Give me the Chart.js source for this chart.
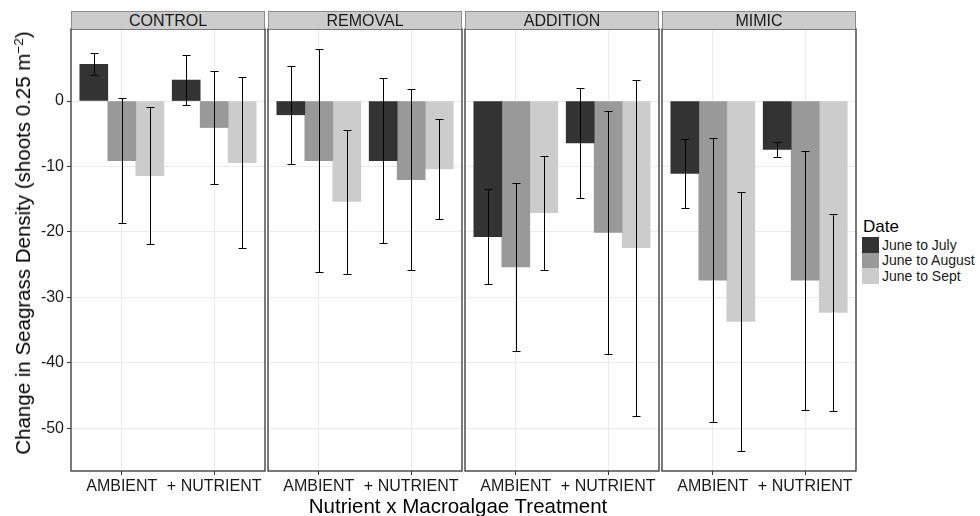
<!DOCTYPE html>
<html>
<head>
<meta charset="utf-8">
<script src="https://cdn.jsdelivr.net/npm/chart.js@4/dist/chart.umd.min.js"></script>
<style>
  html, body { margin: 0; padding: 0; background: #fff; }
  body { width: 980px; height: 516px; position: relative; overflow: hidden;
         font-family: "Liberation Sans", Arial, Helvetica, sans-serif; color: #000; }
  .panel { position: absolute; top: 0; height: 516px; }
  .strip { position: absolute; top: 11px; height: 18px; box-sizing: border-box;
           background: #cccccc; border: 1px solid #8c8c8c; border-bottom: none;
           font-size: 16px; line-height: 17px; text-align: center; color: #1a1a1a; }
  .ytitle { position: absolute; left: 23px; top: 243px; white-space: nowrap; font-size: 20.5px;
            transform: translate(-50%, -50%) rotate(-90deg); }
  .ytitle sup { font-size: 13.5px; vertical-align: 7px; line-height: 0; }
  .xtitle { position: absolute; left: 458px; top: 506px; white-space: nowrap; font-size: 20.5px;
            transform: translate(-50%, -50%); }
  .legend { position: absolute; left: 862px; top: 217px; }
  .legend .ttl { font-size: 17px; font-weight: normal; line-height: 20px; margin-left: 1px; }
  .legend .row { display: flex; align-items: center; height: 15.5px; }
  .legend .key { width: 17px; height: 15.5px; margin-right: 3px; }
  .legend .lab { font-size: 14px; color: #1a1a1a; white-space: nowrap; }
</style>
</head>
<body>
<div id="panels"></div>
<div class="ytitle">Change in Seagrass Density (shoots 0.25 m<sup>−2</sup>)</div>
<div class="xtitle">Nutrient x Macroalgae Treatment</div>
<div class="legend" id="legend"><div class="ttl">Date</div></div>

<script>
// Facets, categories and series
const treatments = ['CONTROL', 'REMOVAL', 'ADDITION', 'MIMIC'];
const categories = ['AMBIENT', '+ NUTRIENT'];
const dates = ['June to July', 'June to August', 'June to Sept'];
const yTicks = [-50, -40, -30, -20, -10, 0];

// Mean change per treatment, in order: CONTROL amb/nut, REMOVAL amb/nut, ADDITION amb/nut, MIMIC amb/nut
const julyMean  = [5.6, 3.2, -2.1, -9.1, -20.7, -6.4, -11.05, -7.4];
const augMean   = [-9.1, -4.05, -9.1, -12.0, -25.35, -20.05, -27.35, -27.35];
const septMean  = [-11.4, -9.4, -15.35, -10.35, -17.05, -22.4, -33.65, -32.3];

// Error-bar half widths, same order
const julyErr = [1.68, 3.86, 7.46, 12.65, 7.19, 8.43, 5.31, 1.17];
const augErr  = [9.6, 8.6, 17.0, 13.87, 12.78, 18.57, 21.65, 19.79];
const septErr = [10.47, 13.0, 11.0, 7.67, 8.72, 25.63, 19.77, 15.05];

const means = [julyMean, augMean, septMean];
const errs = [julyErr, augErr, septErr];
const fills = ['#333333', '#999999', '#cccccc'];

const FONT = '"Liberation Sans", Arial, Helvetica, sans-serif';
const panelLeft = [71, 268, 465, 662];
const panelWidth = 194;

// Whiskers with caps drawn on top of the bars
const errorBars = {
  id: 'errorBars',
  afterDatasetsDraw(chart) {
    const ctx = chart.ctx;
    const ys = chart.scales.y;
    ctx.save();
    ctx.strokeStyle = '#000';
    ctx.lineWidth = 1;
    chart.data.datasets.forEach((ds, i) => {
      const meta = chart.getDatasetMeta(i);
      meta.data.forEach((bar, j) => {
        const m = ds.data[j].y, e = ds.errors[j];
        const x = Math.round(bar.x) + 0.5;
        const yHi = Math.round(ys.getPixelForValue(m + e)) + 0.5;
        const yLo = Math.round(ys.getPixelForValue(m - e)) + 0.5;
        const cap = 4;
        ctx.beginPath();
        ctx.moveTo(x, yHi); ctx.lineTo(x, yLo);
        ctx.moveTo(x - cap, yHi); ctx.lineTo(x + cap, yHi);
        ctx.moveTo(x - cap, yLo); ctx.lineTo(x + cap, yLo);
        ctx.stroke();
      });
    });
    ctx.restore();
  }
};

// Dark frame around each facet
const panelBorder = {
  id: 'panelBorder',
  afterDraw(chart) {
    const a = chart.chartArea, ctx = chart.ctx;
    ctx.save();
    ctx.strokeStyle = '#333333';
    ctx.lineWidth = 1.3;
    ctx.strokeRect(a.left, a.top, a.right - a.left, a.bottom - a.top);
    ctx.restore();
  }
};

function makePanel(k) {
  const first = k === 0;
  const padL = first ? 0 : 2;
  const canvasLeft = first ? 0 : panelLeft[k] - padL;
  const canvasW = panelLeft[k] + panelWidth + 2 - canvasLeft;

  const wrap = document.createElement('div');
  wrap.className = 'panel';
  wrap.style.left = canvasLeft + 'px';
  wrap.style.width = canvasW + 'px';
  const cv = document.createElement('canvas');
  cv.width = canvasW; cv.height = 516;
  cv.style.width = canvasW + 'px'; cv.style.height = '516px';
  wrap.appendChild(cv);
  document.getElementById('panels').appendChild(wrap);

  const strip = document.createElement('div');
  strip.className = 'strip';
  strip.style.left = panelLeft[k] + 'px';
  strip.style.width = panelWidth + 'px';
  strip.textContent = treatments[k];
  document.body.appendChild(strip);

  const datasets = dates.map((d, s) => ({
    label: d,
    data: categories.map((c, j) => ({ x: j + 1, y: means[s][2 * k + j] })),
    errors: categories.map((c, j) => errs[s][2 * k + j]),
    backgroundColor: fills[s],
    borderWidth: 0,
    barThickness: 28
  }));

  new Chart(cv, {
    type: 'bar',
    data: { datasets },
    options: {
      responsive: false,
      animation: false,
      devicePixelRatio: 1,
      events: [],
      layout: { padding: { left: padL, right: 2, top: 29, bottom: 0 } },
      plugins: { legend: { display: false }, tooltip: { enabled: false } },
      scales: {
        x: {
          type: 'linear', min: 0.45, max: 2.55, offset: false,
          afterBuildTicks: s => { s.ticks = categories.map((c, j) => ({ value: j + 1 })); },
          afterFit: s => { s.height = 45; },
          grid: { offset: false, color: '#ebebeb', lineWidth: 1, tickColor: '#333333', tickLength: 4, drawTicks: true },
          border: { display: false },
          ticks: {
            autoSkip: false, maxRotation: 0, minRotation: 0, padding: 2,
            color: '#1a1a1a', font: { family: FONT, size: 16 },
            callback: (v, i) => categories[i]
          }
        },
        y: {
          type: 'linear', min: -56.5, max: 11,
          afterBuildTicks: s => { s.ticks = yTicks.map(v => ({ value: v })); },
          afterFit: s => { s.width = first ? 71 : 0; },
          grid: { offset: false, color: '#ebebeb', lineWidth: 1, tickColor: '#333333', tickLength: 4, drawTicks: first },
          border: { display: false },
          ticks: {
            display: first, padding: 3,
            color: '#1a1a1a', font: { family: FONT, size: 16 },
            callback: v => String(v)
          }
        }
      }
    },
    plugins: [errorBars, panelBorder]
  });
}

treatments.forEach((t, k) => makePanel(k));

// Legend for the three date intervals
const legend = document.getElementById('legend');
dates.forEach((d, s) => {
  const row = document.createElement('div');
  row.className = 'row';
  const key = document.createElement('div');
  key.className = 'key';
  key.style.background = fills[s];
  const lab = document.createElement('div');
  lab.className = 'lab';
  lab.textContent = d;
  row.appendChild(key); row.appendChild(lab);
  legend.appendChild(row);
});
</script>
</body>
</html>
